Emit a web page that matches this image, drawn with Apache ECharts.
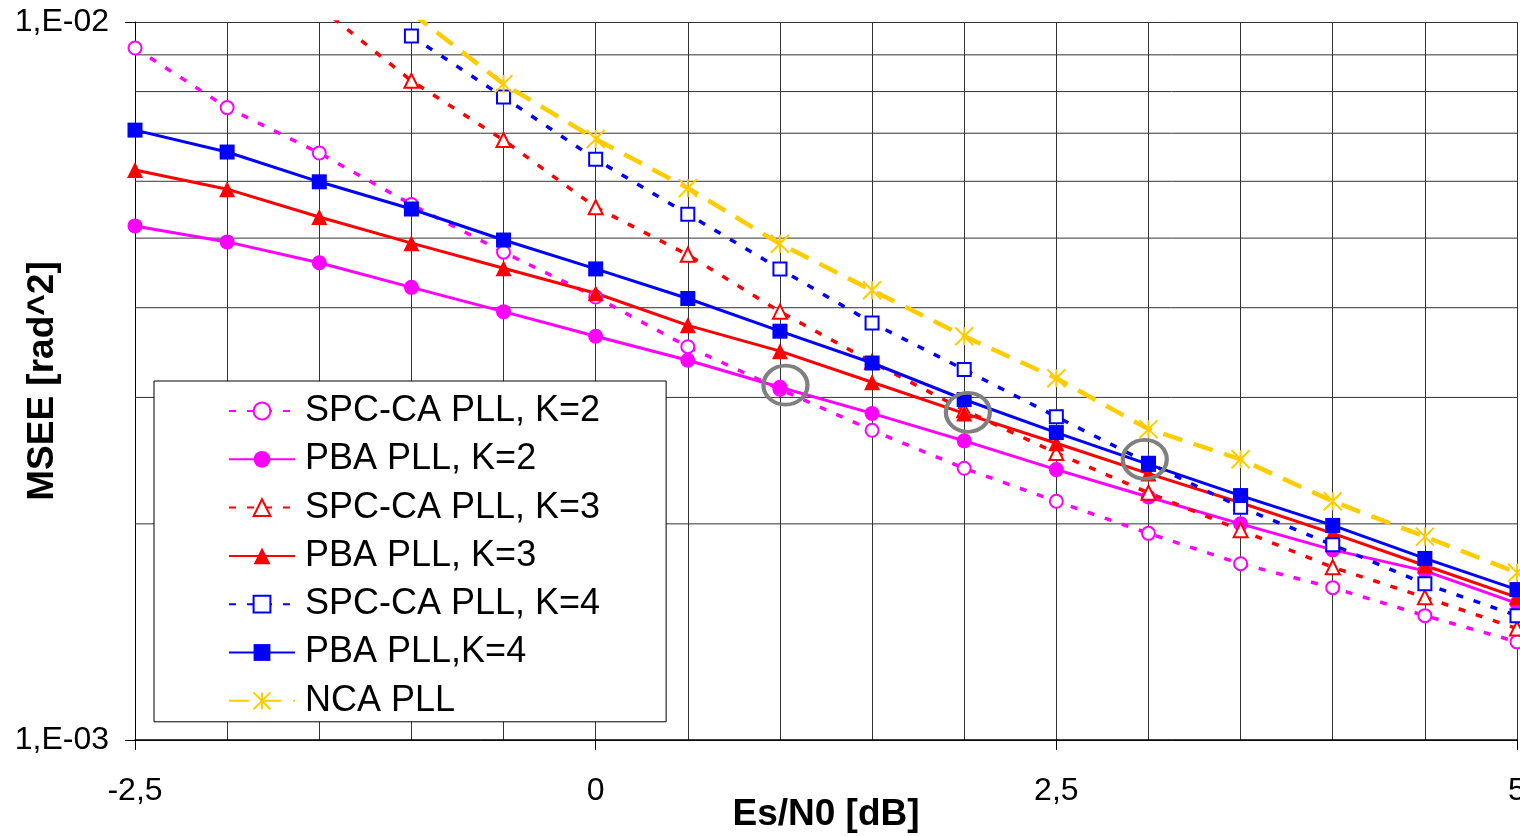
<!DOCTYPE html>
<html><head><meta charset="utf-8">
<script src="https://cdn.jsdelivr.net/npm/echarts@6/dist/echarts.min.js"></script>
<style>html,body{margin:0;padding:0;background:#fff}#c{width:1520px;height:836px}</style>
</head><body><div id="c"></div>
<script>
// ---- data ----
const xValues = [-2.5, -2, -1.5, -1, -0.5, 0, 0.5, 1, 1.5, 2, 2.5, 3, 3.5, 4, 4.5, 5];
const spcK2 = [9.20e-3, 7.60e-3, 6.57e-3, 5.57e-3, 4.78e-3, 4.14e-3, 3.53e-3, 3.08e-3, 2.70e-3, 2.39e-3, 2.15e-3, 1.94e-3, 1.76e-3, 1.63e-3, 1.49e-3, 1.37e-3];
const pbaK2 = [5.20e-3, 4.94e-3, 4.62e-3, 4.27e-3, 3.95e-3, 3.65e-3, 3.38e-3, 3.10e-3, 2.85e-3, 2.61e-3, 2.38e-3, 2.18e-3, 2.00e-3, 1.84e-3, 1.72e-3, 1.55e-3];
const spcK3 = [null, null, 1.05e-2, 8.28e-3, 6.85e-3, 5.52e-3, 4.74e-3, 3.95e-3, 3.36e-3, 2.88e-3, 2.51e-3, 2.21e-3, 1.96e-3, 1.74e-3, 1.58e-3, 1.43e-3];
const pbaK3 = [6.22e-3, 5.85e-3, 5.35e-3, 4.92e-3, 4.54e-3, 4.19e-3, 3.78e-3, 3.48e-3, 3.15e-3, 2.85e-3, 2.59e-3, 2.35e-3, 2.14e-3, 1.94e-3, 1.75e-3, 1.58e-3];
const spcK4 = [null, null, null, 9.56e-3, 7.86e-3, 6.44e-3, 5.40e-3, 4.53e-3, 3.81e-3, 3.28e-3, 2.82e-3, 2.43e-3, 2.11e-3, 1.87e-3, 1.65e-3, 1.49e-3];
const pbaK4 = [7.07e-3, 6.59e-3, 5.99e-3, 5.49e-3, 4.97e-3, 4.53e-3, 4.12e-3, 3.71e-3, 3.35e-3, 2.98e-3, 2.68e-3, 2.42e-3, 2.19e-3, 1.99e-3, 1.79e-3, 1.62e-3];
const ncaPll = [null, null, null, 1.03e-2, 8.20e-3, 6.87e-3, 5.87e-3, 4.91e-3, 4.23e-3, 3.65e-3, 3.19e-3, 2.71e-3, 2.46e-3, 2.15e-3, 1.92e-3, 1.71e-3];
const seriesNames = ['SPC-CA PLL, K=2', 'PBA PLL, K=2', 'SPC-CA PLL, K=3', 'PBA PLL, K=3', 'SPC-CA PLL, K=4', 'PBA PLL,K=4', 'NCA PLL'];
const annotX = [1.03, 2.02, 2.98];
const annotY = [3.12e-3, 2.86e-3, 2.46e-3];
const xTickValues = [-2.5, 0, 2.5, 5];
const xTickLabels = ['-2,5', '0', '2,5', '5'];
const yTickValues = [1e-3, 1e-2];
const yTickLabels = ['1,E-03', '1,E-02'];
const yMinorGrid = [2e-3, 3e-3, 4e-3, 5e-3, 6e-3, 7e-3, 8e-3, 9e-3];

// ---- chart ----
const FONT = 'Liberation Sans, Arial, sans-serif';
const STAR = 'path://M0,0L20,20M20,0L0,20M10,0L10,20';
const DOT = [7, 11];
const DASH = [20, 12];
const X_MIN = -2.5, X_MAX = 5;

function pairs(vals) {
  const out = [];
  vals.forEach((v, i) => { if (v !== null) out.push([xValues[i], v]); });
  return out;
}
function mk(name, vals, color, symbol, size, lineType, width, empty) {
  return {
    name: name, type: 'line', data: pairs(vals),
    symbol: symbol, symbolSize: size, showSymbol: true,
    lineStyle: { color: color, width: width, type: lineType },
    itemStyle: empty ? { color: color, borderColor: color, borderWidth: 1.5 }
                     : { color: color, borderWidth: 0 },
    emphasis: { disabled: true },
    clip: true, z: 2
  };
}

// horizontal minor grid lines (log axis 2..9 x 1e-3)
const gridSeries = yMinorGrid.map(v => ({
  name: 'grid' + v, type: 'line', silent: true, z: 1,
  data: [[X_MIN, v], [X_MAX, v]], symbol: 'none',
  lineStyle: { color: '#333', width: 1, type: 'solid' },
  emphasis: { disabled: true }
}));

const series = gridSeries.concat([
  mk(seriesNames[0], spcK2, '#FF00FF', 'emptyCircle', 13, DOT, 3.5, true),
  mk(seriesNames[1], pbaK2, '#FF00FF', 'circle', 15, 'solid', 3, false),
  mk(seriesNames[2], spcK3, '#FF0000', 'emptyTriangle', 14, DOT, 3.5, true),
  mk(seriesNames[3], pbaK3, '#FF0000', 'triangle', 16, 'solid', 3, false),
  mk(seriesNames[4], spcK4, '#0000FF', 'emptyRect', 13, DOT, 3.5, true),
  mk(seriesNames[5], pbaK4, '#0000FF', 'rect', 15, 'solid', 3, false),
  {
    name: seriesNames[6], type: 'line', data: pairs(ncaPll),
    symbol: STAR, symbolSize: 18,
    lineStyle: { color: '#FFCC00', width: 4.5, type: DASH },
    itemStyle: { color: '#FFCC00', borderColor: '#FFCC00', borderWidth: 2 },
    emphasis: { disabled: true }, clip: true, z: 2
  },
  {
    name: 'annot', type: 'scatter', silent: true, z: 10,
    data: annotX.map((x, i) => [x, annotY[i]]),
    symbol: 'circle', symbolSize: [44, 39],
    itemStyle: { color: 'rgba(0,0,0,0)', borderColor: '#808080', borderWidth: 4, opacity: 1 }
  }
]);

const chart = echarts.init(document.getElementById('c'));
chart.setOption({
  animation: false,
  backgroundColor: '#fff',
  textStyle: { fontFamily: FONT },
  grid: { left: 135, right: 3, top: 22, bottom: 96, containLabel: false, outerBoundsMode: 'none' },
  xAxis: {
    type: 'value', min: X_MIN, max: X_MAX, interval: 2.5,
    axisLine: { show: true, onZero: false, lineStyle: { color: '#000', width: 1.5 } },
    axisTick: { show: true, length: 10, lineStyle: { color: '#000' } },
    axisLabel: {
      margin: 35, fontSize: 32, color: '#000', fontFamily: FONT,
      formatter: v => { const i = xTickValues.findIndex(t => Math.abs(t - v) < 1e-9); return i >= 0 ? xTickLabels[i] : ''; }
    },
    splitLine: { show: true, lineStyle: { color: '#333', width: 1 } },
    minorTick: { show: false, splitNumber: 5 },
    minorSplitLine: { show: true, lineStyle: { color: '#333', width: 1 } },
    name: 'Es/N0 [dB]', nameLocation: 'middle', nameGap: 56, nameMoveOverlap: false,
    nameTextStyle: { fontSize: 37, fontWeight: 'bold', color: '#000', fontFamily: FONT }
  },
  yAxis: {
    type: 'log', logBase: 10, min: 1e-3, max: 1e-2,
    axisLine: { show: true, onZero: false, lineStyle: { color: '#000', width: 1 } },
    axisTick: { show: true, length: 10, lineStyle: { color: '#000' } },
    axisLabel: {
      margin: 26, fontSize: 32, color: '#000', fontFamily: FONT,
      formatter: v => { const i = yTickValues.findIndex(t => Math.abs(Math.log10(t) - Math.log10(v)) < 1e-6); return i >= 0 ? yTickLabels[i] : ''; }
    },
    splitLine: { show: true, lineStyle: { color: '#333', width: 1 } },
    name: 'MSEE [rad^2]', nameLocation: 'middle', nameGap: 74, nameRotate: 90, nameMoveOverlap: false,
    nameTextStyle: { fontSize: 37, fontWeight: 'bold', color: '#000', fontFamily: FONT }
  },
  legend: {
    data: seriesNames, orient: 'vertical', selectedMode: false,
    left: 154, top: 381, padding: [12, 66, 3, 74],
    itemWidth: 66, itemHeight: 21, itemGap: 12.3,
    backgroundColor: '#fff', borderColor: '#000', borderWidth: 1, z: 4,
    textStyle: { fontSize: 36, color: '#000', fontFamily: FONT, padding: [0, 0, 0, 5] }
  },
  series: series
});
</script>
</body></html>
